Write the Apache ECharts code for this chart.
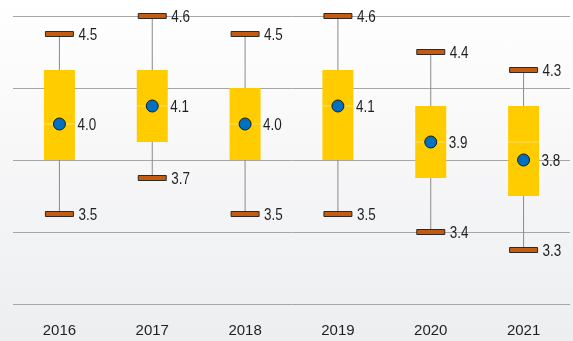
<!DOCTYPE html>
<html>
<head>
<meta charset="utf-8">
<script src="https://cdn.jsdelivr.net/npm/echarts@6/dist/echarts.min.js"></script>
<style>
  html, body { margin: 0; padding: 0; }
  #chart {
    width: 573px; height: 341px;
    background: linear-gradient(180deg, #ffffff 0%, #f7f7f8 45%, #eceef0 100%);
  }
</style>
</head>
<body>
<div id="chart"></div>
<script>
const chart = echarts.init(document.getElementById("chart"));

// ---- data ----
const years  = ["2016", "2017", "2018", "2019", "2020", "2021"];
const low    = [3.5, 3.7, 3.5, 3.5, 3.4, 3.3];
const q1     = [3.8, 3.9, 3.8, 3.8, 3.7, 3.6];
const median = [4.0, 4.1, 4.0, 4.1, 3.9, 3.9];
const q3     = [4.3, 4.3, 4.2, 4.3, 4.1, 4.1];
const high   = [4.5, 4.6, 4.5, 4.6, 4.4, 4.3];
const mean   = [4.0, 4.1, 4.0, 4.1, 3.9, 3.8];

const rows = years.map((y, i) => [i, low[i], q1[i], median[i], q3[i], high[i], mean[i]]);

const FONT = "'Liberation Sans', Arial, sans-serif";
const TXT = { fontFamily: FONT, fontSize: 16, fill: "#1f1f1f" };

// value label, squeezed a little to look like the narrow font of the original
function label(x, y, text) {
  return { type: "text", x: x, y: y, scaleX: 0.84,
    style: Object.assign({ text: text, verticalAlign: "middle" }, TXT) };
}

function renderBox(params, api) {
  const i = api.value(0);
  const pLow = api.coord([i, api.value(1)]);
  const pQ1 = api.coord([i, api.value(2)]);
  const pMed = api.coord([i, api.value(3)]);
  const pQ3 = api.coord([i, api.value(4)]);
  const pHigh = api.coord([i, api.value(5)]);
  const pMean = api.coord([i, api.value(6)]);
  const x = pMean[0];
  const boxW = 31, capW = 28, capH = 5;

  return {
    type: "group",
    children: [
      { type: "line", shape: { x1: x, y1: pHigh[1], x2: x, y2: pLow[1] },
        style: { stroke: "#8a8a8a", lineWidth: 1 } },
      { type: "rect", shape: { x: x - boxW / 2, y: pQ3[1], width: boxW, height: pQ1[1] - pQ3[1] },
        style: { fill: "#ffcc00" } },
      { type: "line", shape: { x1: x - boxW / 2, y1: pMed[1], x2: x + boxW / 2, y2: pMed[1] },
        style: { stroke: "#ffe066", lineWidth: 1 } },
      { type: "rect", shape: { x: x - capW / 2, y: pHigh[1] - capH / 2, width: capW, height: capH },
        style: { fill: "#c55a11", stroke: "#2a2a2a", lineWidth: 1 } },
      { type: "rect", shape: { x: x - capW / 2, y: pLow[1] - capH / 2, width: capW, height: capH },
        style: { fill: "#c55a11", stroke: "#2a2a2a", lineWidth: 1 } },
      { type: "circle", shape: { cx: x, cy: pMean[1], r: 6 },
        style: { fill: "#0070c0", stroke: "#1a1a1a", lineWidth: 1 } },
      label(x + 19, pHigh[1] + 1.5, api.value(5).toFixed(1)),
      label(x + 19, pLow[1] + 1.5, api.value(1).toFixed(1)),
      label(x + 18, pMean[1] + 2, api.value(6).toFixed(1))
    ]
  };
}

chart.setOption({
  animation: false,
  grid: { left: 13, right: 3, top: 16, bottom: 37 },
  xAxis: {
    type: "category",
    data: years,
    axisLine: { show: false },
    axisTick: { show: false },
    axisLabel: {
      margin: 19,
      fontSize: 15,
      color: "#1f1f1f",
      fontFamily: FONT
    }
  },
  yAxis: {
    type: "value",
    min: 3.0,
    max: 4.6,
    interval: 0.4,
    axisLabel: { show: false },
    axisLine: { show: false },
    axisTick: { show: false },
    splitLine: { lineStyle: { color: "#a6a6a6", width: 1 } }
  },
  series: [
    {
      type: "custom",
      renderItem: renderBox,
      encode: { x: 0, y: [1, 5] },
      data: rows
    }
  ]
});
</script>
</body>
</html>
